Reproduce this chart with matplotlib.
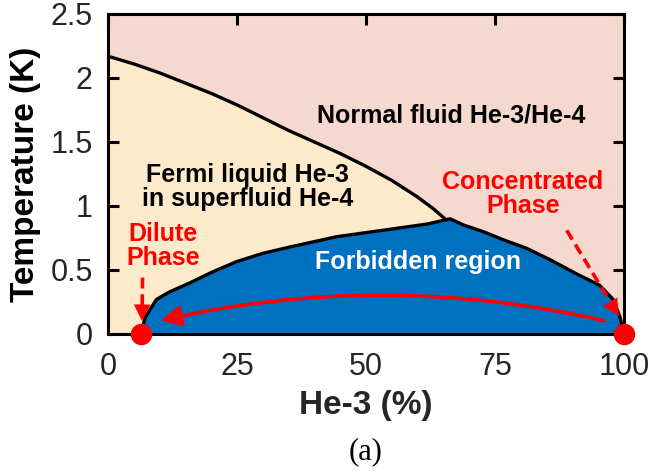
import matplotlib.pyplot as plt
from matplotlib.patches import FancyArrowPatch

plt.rcParams['font.family'] = ['Liberation Sans', 'DejaVu Sans']

# Lambda line (superfluid transition), He-3 % vs T (K)
lambda_x = [0, 5, 10, 15, 20, 25, 30, 35, 40, 45, 50, 55, 60, 63, 65.6]
lambda_T = [2.17, 2.11, 2.04, 1.96, 1.88, 1.79, 1.69, 1.59, 1.50, 1.41, 1.31, 1.20, 1.07, 0.98, 0.89]

# Phase separation curve, dilute side then concentrated side
dilute_x = [6.4, 7.2, 9.4, 12, 15.9, 20, 24.9, 30, 35.3, 44.3, 55, 62, 66.3]
dilute_T = [0.0, 0.13, 0.27, 0.33, 0.40, 0.48, 0.565, 0.63, 0.68, 0.76, 0.82, 0.86, 0.90]
conc_x = [66.3, 69, 72.7, 77, 81.1, 85.7, 90.8, 95.3, 97.9, 99.2, 100]
conc_T = [0.90, 0.85, 0.80, 0.73, 0.67, 0.58, 0.47, 0.38, 0.27, 0.135, 0.0]

# Coexisting phases at T -> 0
dot_x = [6.4, 100]
dot_T = [0, 0]

xticks = [0, 25, 50, 75, 100]
yticks = [0, 0.5, 1, 1.5, 2, 2.5]
ytick_labels = ['0', '0.5', '1', '1.5', '2', '2.5']

pink = '#F5D9CF'
cream = '#FDEACB'
blue = '#0070C0'
red = '#FF0000'

fig = plt.figure(figsize=(6.52, 4.71), dpi=100)
ax = fig.add_axes([0.1656, 0.2909, 0.7914, 0.6794])
ax.set_facecolor(pink)

# superfluid region under the lambda line
ax.fill_between(lambda_x, lambda_T, 0, color=cream, lw=0, zorder=1)
ax.plot(lambda_x, lambda_T, color='black', lw=2.4, zorder=3, solid_capstyle='round')

# forbidden (two-phase) region
dome_x = dilute_x + conc_x[1:]
dome_T = dilute_T + conc_T[1:]
ax.fill(dome_x, dome_T, color=blue, lw=0, zorder=2)
ax.plot(dome_x, dome_T, color='black', lw=2.4, zorder=3, solid_joinstyle='round')

# curved arrow from concentrated to dilute phase
arc = FancyArrowPatch((96.6, 0.1), (9.7, 0.1), connectionstyle='arc3,rad=0.115',
                      arrowstyle='-|>,head_length=0.6,head_width=0.3',
                      mutation_scale=20, color=red, lw=2.6, zorder=5)
ax.add_patch(arc)

# dashed pointers to the two phases
def dashed_arrow(x0, y0, x1, y1):
    fx = x0 + 0.82 * (x1 - x0)
    fy = y0 + 0.82 * (y1 - y0)
    ax.plot([x0, fx], [y0, fy], color=red, lw=2.6, ls=(0, (3, 1.6)), zorder=5)
    ax.annotate('', xy=(x1, y1), xytext=(fx, fy),
                arrowprops=dict(arrowstyle='-|>,head_length=0.6,head_width=0.3',
                                mutation_scale=20, color=red, lw=0, shrinkA=0, shrinkB=0),
                zorder=5)

dashed_arrow(6.7, 0.44, 6.6, 0.10)
dashed_arrow(88.9, 0.81, 99.0, 0.14)

ax.scatter(dot_x, dot_T, s=240, color=red, zorder=6, clip_on=False, lw=0)

# region labels
lab = dict(fontsize=18, fontweight='bold', ha='center', va='center',
           linespacing=1.0, zorder=4)
ax.text(66.5, 1.71, 'Normal fluid He-3/He-4', color='black', **lab)
ax.text(27, 1.15, 'Fermi liquid He-3\nin superfluid He-4', color='black', **lab)
ax.text(10.7, 0.69, 'Dilute\nPhase', color=red, **lab)
ax.text(80.4, 1.09, 'Concentrated\nPhase', color=red, **lab)
ax.text(60, 0.56, 'Forbidden region', color='white', **lab)

ax.set_xlim(0, 100)
ax.set_ylim(0, 2.5)
ax.set_xticks(xticks)
ax.set_yticks(yticks)
ax.set_yticklabels(ytick_labels)
ax.tick_params(direction='in', length=8, width=2.2, labelsize=22, colors='black',
               labelcolor='#262626', top=True, right=True)
ax.tick_params(axis='x', pad=13)
ax.tick_params(axis='y', pad=11)
for sp in ax.spines.values():
    sp.set_linewidth(2.2)
    sp.set_color('black')
    sp.set_zorder(4)

ax.set_xlabel('He-3 (%)', fontsize=24, fontweight='bold', color='#262626', labelpad=6)
ax.set_ylabel('Temperature (K)', fontsize=24, fontweight='bold', color='black', labelpad=7)

fig.text(0.5 * (0.1656 + 0.957), 1 - 452 / 471, '(a)', fontsize=22,
         family=['Liberation Serif', 'DejaVu Serif'], ha='center', va='center')

fig.savefig('out.png', dpi=100)
